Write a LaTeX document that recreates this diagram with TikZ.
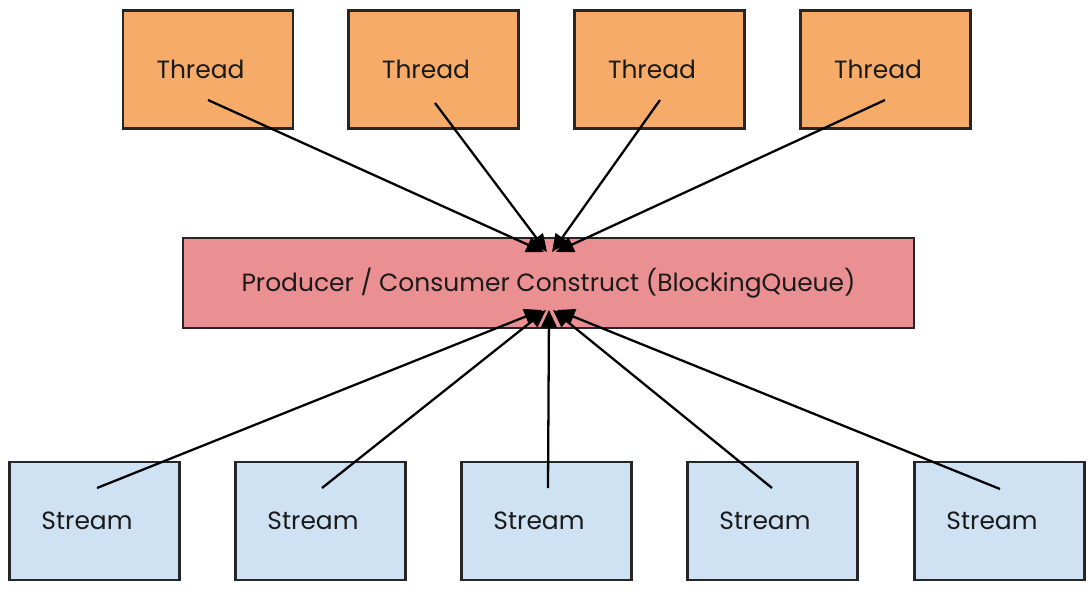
\documentclass[tikz,border=0pt]{standalone}
\usepackage{fontspec}
\setmainfont{Poppins}
\usetikzlibrary{arrows.meta}
\definecolor{thr}{HTML}{F7AB68}
\definecolor{pcc}{HTML}{EA9093}
\definecolor{stm}{HTML}{CFE2F3}
\definecolor{txt}{HTML}{1A1A1A}
\begin{document}
\begin{tikzpicture}[x=0.02cm,y=-0.02cm,
  box/.style={draw=black!85, line width=1.3pt, minimum width=3.4cm, minimum height=2.36cm, inner sep=0pt, font=\fontsize{14.2}{17}\selectfont, text=txt},
  small/.style={box, execute at end node={\hspace{0.3cm}}},
  thread/.style={small, fill=thr},
  stream/.style={small, fill=stm},
  queue/.style={box, fill=pcc, minimum width=14.62cm, minimum height=1.8cm},
  conn/.style={line width=1.3pt, -{Triangle[length=10pt,width=9pt]}}]
\useasboundingbox (0,0) rectangle (1091,599);
% threads
\node[thread] (t1) at (208,69.5) {Thread};
\node[thread] (t2) at (433.5,69.5) {Thread};
\node[thread] (t3) at (659.5,69.5) {Thread};
\node[thread] (t4) at (885.5,69.5) {Thread};
% queue
\node[queue] (q) at (548.5,283) {Producer / Consumer Construct (BlockingQueue)};
% streams
\node[stream] (s1) at (94.5,521) {Stream};
\node[stream] (s2) at (320.5,521) {Stream};
\node[stream] (s3) at (546.5,521) {Stream};
\node[stream] (s4) at (772.5,521) {Stream};
\node[stream] (s5) at (999.5,521) {Stream};
% connector ends
\coordinate (t1a) at (208,100);
\coordinate (t2a) at (435,103);
\coordinate (t3a) at (660,100);
\coordinate (t4a) at (885,100);
\coordinate (qt1) at (544,252);
\coordinate (qt2) at (547,252);
\coordinate (qt3) at (552,252);
\coordinate (qt4) at (556,252);
\coordinate (s1a) at (97,488);
\coordinate (s2a) at (322,488);
\coordinate (s3a) at (548,488);
\coordinate (s4a) at (772,488);
\coordinate (s5a) at (1000,489);
\coordinate (qb1) at (542,310);
\coordinate (qb2) at (546,310);
\coordinate (qb3) at (549,310);
\coordinate (qb4) at (553,310);
\coordinate (qb5) at (557,310);
\draw[conn] (t1a) -- (qt1);
\draw[conn] (t2a) -- (qt2);
\draw[conn] (t3a) -- (qt3);
\draw[conn] (t4a) -- (qt4);
\draw[conn] (s1a) -- (qb1);
\draw[conn] (s2a) -- (qb2);
\draw[conn] (s3a) -- (qb3);
\draw[conn] (s4a) -- (qb4);
\draw[conn] (s5a) -- (qb5);
\end{tikzpicture}
\end{document}
